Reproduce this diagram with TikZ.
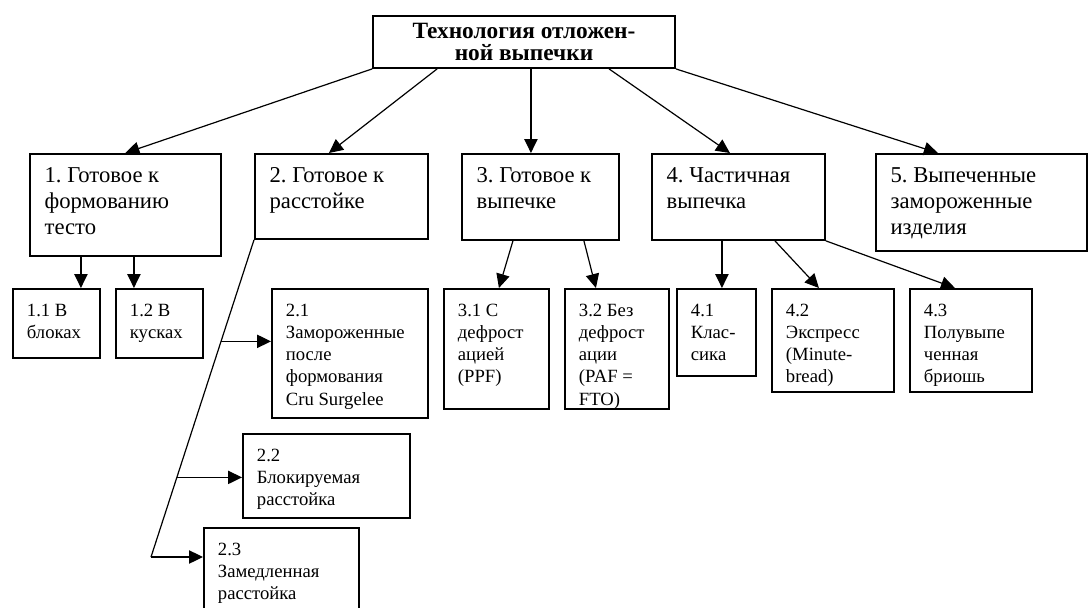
\documentclass[tikz,border=0pt]{standalone}
\usepackage{fontspec}
\setmainfont{Liberation Serif}
\usepackage{tikz}
\usetikzlibrary{arrows.meta,positioning,calc}
\hyphenpenalty=10000
\exhyphenpenalty=10000
\frenchspacing

\begin{document}
\begin{tikzpicture}[x=0.75pt, y=-0.75pt,
      title/.style={draw, line width=1.4pt, align=center, font=\fontsize{17.5}{16.5}\selectfont\bfseries, minimum width=226.5pt, minimum height=39pt, inner sep=2pt},
      grp/.style={draw, line width=1.4pt, anchor=north west, align=flush left, font=\fontsize{17}{19.5}\selectfont, inner xsep=11pt, inner ysep=10.5pt, text height=11.25pt},
      sub/.style={draw, line width=1.4pt, anchor=north west, align=flush left, font=\fontsize{14}{16.7}\selectfont, inner xsep=10.5pt, inner ysep=11pt, text height=9.3pt},
      sz/.style 2 args={text width=#1, text depth=#2},
      arr/.style={-{Triangle[length=10.5pt,width=10pt]}, line width=0.9pt}
    ]
    \useasboundingbox (0,0) rectangle (1088,607);
    \node[title] (top) at (524,42) {Технология отложен-\\ной выпечки};

    \node[grp, sz={121.25pt}{44.25pt}] (b1) at (29,153) {1. Готовое к\\формованию\\тесто};
    \node[grp, sz={107.75pt}{31.5pt}] (b2) at (254,153) {2. Готовое к\\расстойке};
    \node[grp, sz={95.75pt}{32.25pt}] (b3) at (461,153) {3. Готовое к\\выпечке};
    \node[grp, sz={107.75pt}{32.25pt}] (b4) at (651,153) {4. Частичная\\выпечка};
    \node[grp, sz={136.25pt}{40.5pt}] (b5) at (875,153) {5. Выпеченные\\замороженные\\изделия};

    \node[sub, sz={44.25pt}{20.45pt}] (b11) at (12,288) {1.1 В\\блоках};
    \node[sub, sz={44.25pt}{20.45pt}] (b12) at (115,288) {1.2 В\\кусках};
    \node[sub, sz={96pt}{65.45pt}] (b21) at (271,288) {2.1\\Замороженные\\после\\формования\\Cru Surgelee};
    \node[sub, sz={104.25pt}{31.7pt}] (b22) at (242,433) {2.2\\Блокируемая\\расстойка};
    \node[sub, sz={95.25pt}{32.45pt}] (b23) at (203,527) {2.3\\Замедленная\\расстойка};
    \node[sub, sz={57.75pt}{58.7pt}] (b31) at (443,288) {3.1 С\\дефрост\\ацией\\(PPF)};
    \node[sub, sz={57pt}{58.7pt}] (b32) at (564,288) {3.2 Без\\дефрост\\ации\\(PAF =\\FTO)};
    \node[sub, sz={38.25pt}{33.95pt}] (b41) at (676,288) {4.1\\Клас-\\сика};
    \node[sub, sz={70.5pt}{45.95pt}] (b42) at (771,288) {4.2\\Экспресс\\(Minute-\\bread)};
    \node[sub, sz={70.5pt}{45.95pt}] (b43) at (909,288) {4.3\\Полувыпе\\ченная\\бриошь};

    % first level
    \draw[arr] (top.south west) -- (b1.north);
    \draw[arr] ($(top.south west)+(65,0)$) -- ($(b2.north)+(-12.5,0)$);
    \coordinate (t3) at ($(b3.north)+(-9.5,0)$);
    \draw[arr] (top.south -| t3) -- (t3);
    \draw[arr] ($(top.south west)+(237,0)$) -- ($(b4.north)+(-8.5,0)$);
    \draw[arr] (top.south east) -- ($(b5.north)+(-43.5,0)$);

    % second level
    \coordinate (t11) at ($(b11.north)+(24.5,0)$);
    \coordinate (t12) at ($(b12.north)+(-25.5,0)$);
    \draw[arr] (b1.south -| t11) -- (t11);
    \draw[arr] (b1.south -| t12) -- (t12);

    \coordinate (bend) at (151,557);
    \coordinate (p21) at ($(b2.south west)!0.32!(bend)$);
    \coordinate (p22) at ($(b2.south west)!0.749!(bend)$);
    \draw[line width=0.9pt] (b2.south west) -- (bend);
    \draw[arr] (p21) -- (p21 -| b21.west);
    \draw[arr] (p22) -- (p22 -| b22.west);
    \draw[arr] (bend) -- (bend -| b23.west);

    \draw[arr] ($(b3.south)+(-27.5,0)$) -- ($(b31.north)+(2.5,0)$);
    \draw[arr] ($(b3.south)+(43.5,0)$) -- ($(b32.north)+(-21,0)$);
    \coordinate (t41) at ($(b41.north)+(5.5,0)$);
    \draw[arr] (b4.south -| t41) -- (t41);
    \draw[arr] ($(b4.south)+(36.5,0)$) -- ($(b42.north)+(-14,0)$);
    \draw[arr] (b4.south east) -- ($(b43.north)+(-16,0)$);
  \end{tikzpicture}
\end{document}
